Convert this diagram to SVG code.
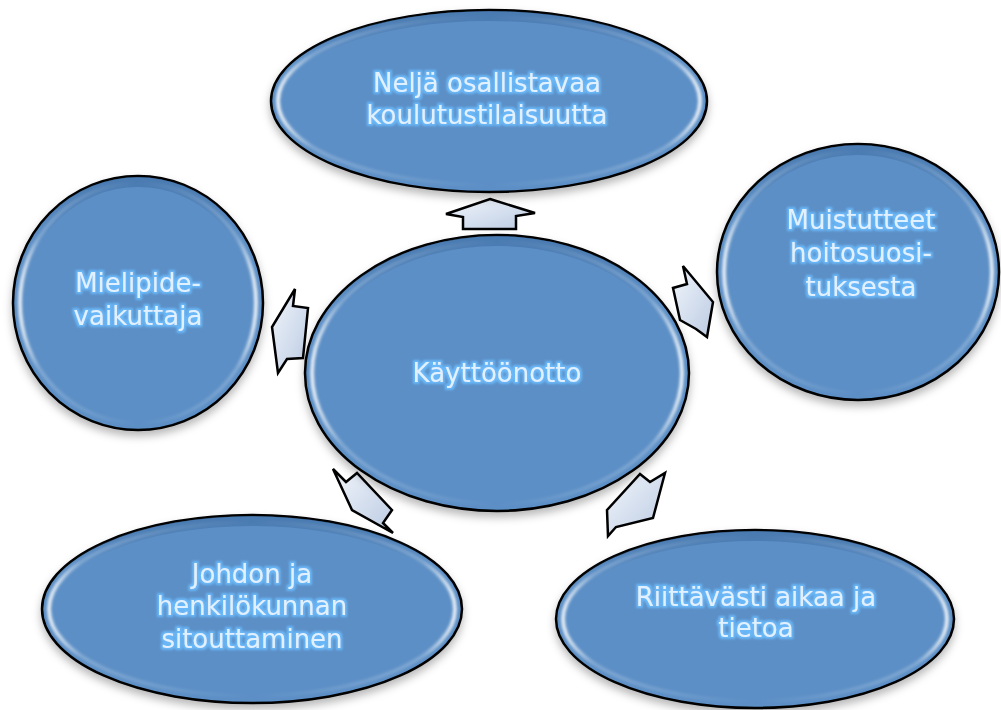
<svg xmlns="http://www.w3.org/2000/svg" width="1001" height="710" viewBox="0 0 1001 710">
<defs>
  <filter id="shadow" x="-10%" y="-10%" width="120%" height="130%">
    <feDropShadow dx="0" dy="5" stdDeviation="4" flood-color="#000" flood-opacity="0.28"/>
  </filter>
  <filter id="soft" x="-10%" y="-10%" width="120%" height="120%">
    <feGaussianBlur stdDeviation="1.4"/>
  </filter>
  <filter id="glow" x="-10%" y="-20%" width="120%" height="140%">
    <feMorphology in="SourceAlpha" operator="dilate" radius="1.5" result="d"/>
    <feGaussianBlur in="d" stdDeviation="0.8" result="b"/>
    <feFlood flood-color="#6ab8f8"/>
    <feComposite in2="b" operator="in" result="g"/>
    <feMerge><feMergeNode in="g"/><feMergeNode in="SourceGraphic"/></feMerge>
  </filter>
  <linearGradient id="rim" x1="0" y1="0" x2="1" y2="0">
    <stop offset="0" stop-color="#fff" stop-opacity="0.95"/>
    <stop offset="0.08" stop-color="#fff" stop-opacity="0.25"/>
    <stop offset="0.5" stop-color="#fff" stop-opacity="0"/>
    <stop offset="0.92" stop-color="#fff" stop-opacity="0.25"/>
    <stop offset="1" stop-color="#fff" stop-opacity="0.95"/>
  </linearGradient>
  <linearGradient id="topshade" x1="0" y1="0" x2="0" y2="1">
    <stop offset="0" stop-color="#3b6aa0" stop-opacity="0.55"/>
    <stop offset="0.25" stop-color="#3b6aa0" stop-opacity="0"/>
    <stop offset="1" stop-color="#3b6aa0" stop-opacity="0"/>
  </linearGradient>
  <linearGradient id="arrowFill" x1="0" y1="0" x2="1" y2="1">
    <stop offset="0" stop-color="#f2f6fb"/>
    <stop offset="0.5" stop-color="#d6e0ef"/>
    <stop offset="1" stop-color="#bccbe2"/>
  </linearGradient>
  <style>
    .node .base { fill: #5b8fc6; stroke: #000; stroke-width: 2.5; }
    .node .shade { fill: none; stroke: url(#topshade); stroke-width: 10; }
    .node .rim { fill: none; stroke: url(#rim); stroke-width: 3.5; filter: url(#soft); }
    .node text { font-family: "DejaVu Sans", "Liberation Sans", sans-serif; font-size: 26px; fill: #e2f1ff; text-anchor: middle; filter: url(#glow); }
    .arrow { fill: url(#arrowFill); stroke: #000; stroke-width: 2.5; stroke-linejoin: miter; }
  </style>
</defs>
<rect width="1001" height="710" fill="#fff"/>

<g id="connectors">
  <polygon class="arrow" points="490,199 535,213 516,216 516,229 463,229 463,217 446,214"/>
  <polygon class="arrow" points="683,266 713,302 707,337 696,329 680,320 673,288 687,284"/>
  <polygon class="arrow" points="295,289 272,327 278,373 287,359 303,358 308,308 293,306"/>
  <polygon class="arrow" points="333,469 346,482 357,473 392,510 383,523 393,533 352,510"/>
  <polygon class="arrow" points="607,510 640,474 650,482 665,473 653,518 616,527 608,536"/>
</g>

<g id="node-top" class="node">
  <ellipse class="base" cx="489" cy="101" rx="218" ry="91" filter="url(#shadow)"/>
  <ellipse class="shade" cx="489" cy="101" rx="212" ry="85"/>
  <ellipse class="rim" cx="489" cy="101" rx="211" ry="84"/>
  <text x="487" y="92">Neljä osallistavaa</text>
  <text x="487" y="124">koulutustilaisuutta</text>
</g>

<g id="node-right" class="node">
  <ellipse class="base" cx="858" cy="272" rx="141" ry="128" filter="url(#shadow)"/>
  <ellipse class="shade" cx="858" cy="272" rx="135" ry="122"/>
  <ellipse class="rim" cx="858" cy="272" rx="134" ry="121"/>
  <text x="861" y="229">Muistutteet</text>
  <text x="861" y="262">hoitosuosi-</text>
  <text x="861" y="296">tuksesta</text>
</g>

<g id="node-left" class="node">
  <ellipse class="base" cx="138" cy="303" rx="125" ry="127" filter="url(#shadow)"/>
  <ellipse class="shade" cx="138" cy="303" rx="119" ry="121"/>
  <ellipse class="rim" cx="138" cy="303" rx="118" ry="120"/>
  <text x="138" y="292">Mielipide-</text>
  <text x="138" y="325">vaikuttaja</text>
</g>

<g id="node-center" class="node">
  <ellipse class="base" cx="497" cy="373" rx="192" ry="138" filter="url(#shadow)"/>
  <ellipse class="shade" cx="497" cy="373" rx="186" ry="132"/>
  <ellipse class="rim" cx="497" cy="373" rx="185" ry="131"/>
  <text x="497" y="382">Käyttöönotto</text>
</g>

<g id="node-bottom-left" class="node">
  <ellipse class="base" cx="252" cy="609" rx="210" ry="94" filter="url(#shadow)"/>
  <ellipse class="shade" cx="252" cy="609" rx="204" ry="88"/>
  <ellipse class="rim" cx="252" cy="609" rx="203" ry="87"/>
  <text x="252" y="583">Johdon ja</text>
  <text x="252" y="615">henkilökunnan</text>
  <text x="252" y="648">sitouttaminen</text>
</g>

<g id="node-bottom-right" class="node">
  <ellipse class="base" cx="755" cy="619" rx="199" ry="89" filter="url(#shadow)"/>
  <ellipse class="shade" cx="755" cy="619" rx="193" ry="83"/>
  <ellipse class="rim" cx="755" cy="619" rx="192" ry="82"/>
  <text x="756" y="606">Riittävästi aikaa ja</text>
  <text x="756" y="637">tietoa</text>
</g>
</svg>
